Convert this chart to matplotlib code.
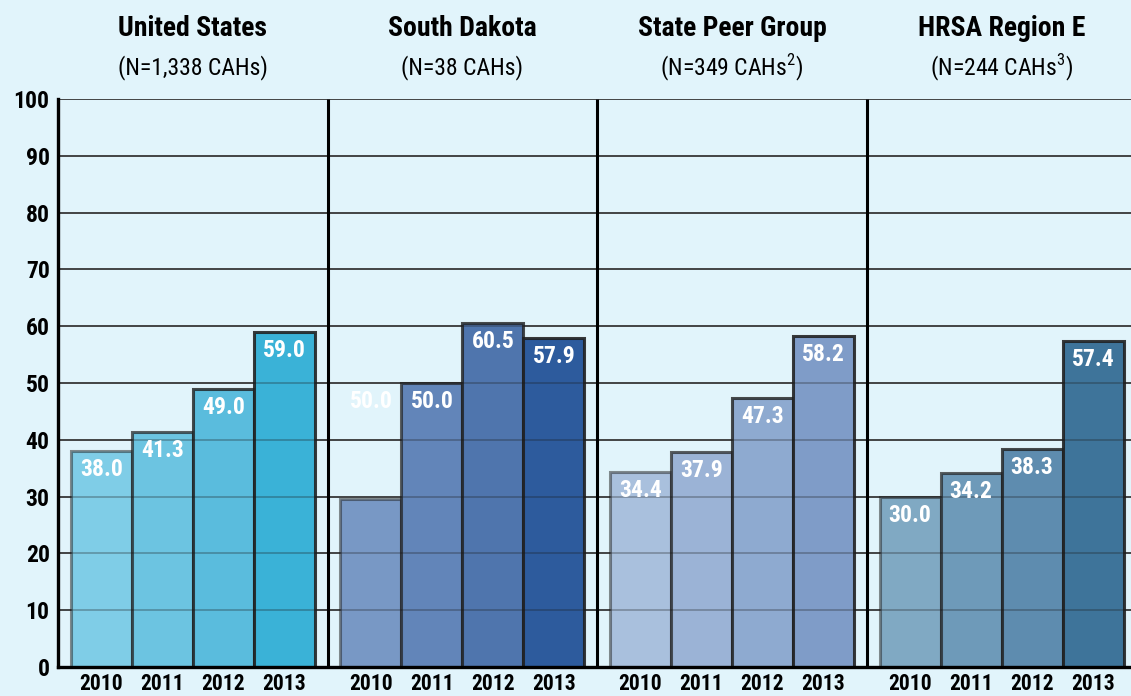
import matplotlib
matplotlib.use("Agg")
import matplotlib.pyplot as plt
from matplotlib import font_manager as fm

# ---------------- data ----------------
years = ["2010", "2011", "2012", "2013"]
groups = ["United States", "South Dakota", "State Peer Group", "HRSA Region E"]
subtitles = ["(N=1,338 CAHs)", "(N=38 CAHs)", r"(N=349 CAHs$^{2}$)", r"(N=244 CAHs$^{3}$)"]
us_values = [38.0, 41.3, 49.0, 59.0]
sd_values = [29.6, 50.0, 60.5, 57.9]          # bar heights as drawn
peer_values = [34.4, 37.9, 47.3, 58.2]
hrsa_values = [30.0, 34.2, 38.3, 57.4]
us_labels = [38.0, 41.3, 49.0, 59.0]
sd_labels = [50.0, 50.0, 60.5, 57.9]           # printed labels
peer_labels = [34.4, 37.9, 47.3, 58.2]
hrsa_labels = [30.0, 34.2, 38.3, 57.4]
yticks = [0, 10, 20, 30, 40, 50, 60, 70, 80, 90, 100]

values = [us_values, sd_values, peer_values, hrsa_values]
labels = [us_labels, sd_labels, peer_labels, hrsa_labels]

colors = [
    ["#7fcde7", "#6cc4e1", "#5abcdd", "#3ab2d7"],
    ["#7898c5", "#6285b9", "#4f75ad", "#2d5b9d"],
    ["#a9c0dd", "#9bb3d6", "#8eaad0", "#7f9cc8"],
    ["#80a9c3", "#6e9ab9", "#5e8caf", "#3e749a"],
]
edge_alpha = [0.5, 0.7, 0.8, 0.88]

avail = {f.name for f in fm.fontManager.ttflist}
cond = [f for f in ["Roboto Condensed", "Liberation Sans Narrow", "DejaVu Sans Condensed",
                    "Open Sans Condensed"] if f in avail]
family = cond + ["DejaVu Sans"]
plt.rcParams["font.family"] = family
plt.rcParams["mathtext.fontset"] = "custom"
plt.rcParams["mathtext.rm"] = family[0]

BG = "#e1f4fb"
fig = plt.figure(figsize=(11.31, 6.96), dpi=100, facecolor=BG)
ax = fig.add_axes([58 / 1131, 1 - 667 / 696, 1 - 58 / 1131, (667 - 99) / 696])
ax.set_facecolor(BG)

bw = 1.0
panel_w = 4.42
margin = 0.21
ax.set_xlim(0, (1131 - 58) / 61.0)
ax.set_ylim(0, 100)

# gridlines (full below bars, faint over bars)
for y in yticks[1:]:
    ax.axhline(y, color="#4a4a4a", lw=1.3, zorder=1)
    ax.axhline(y, color="#1a1a1a", lw=1.3, alpha=0.3, zorder=2.5)

xt, xl = [], []
for i in range(4):
    x0 = i * panel_w
    for j in range(4):
        xc = x0 + margin + j * bw + bw / 2
        ax.bar(xc, values[i][j], width=bw, color=colors[i][j],
               edgecolor=(0.12, 0.12, 0.12, edge_alpha[j]), linewidth=2.2, zorder=2)
        ax.annotate(f"{labels[i][j]:.1f}", (xc, labels[i][j]), xytext=(0, -5),
                    textcoords="offset points", ha="center", va="top",
                    color="white", fontsize=17, fontweight="bold", zorder=4)
        xt.append(xc)
        xl.append(years[j])
    if i > 0:
        ax.plot([x0, x0], [0, 100], color="black", lw=2.2, zorder=3, solid_capstyle="butt")
    cx = x0 + panel_w / 2
    ax.text(cx, 1.125, groups[i], transform=ax.get_xaxis_transform(), ha="center",
            va="center", fontsize=20, fontweight="bold", color="black")
    ax.text(cx, 1.055, subtitles[i], transform=ax.get_xaxis_transform(), ha="center",
            va="center", fontsize=17, color="black")

for s in ["top", "right"]:
    ax.spines[s].set_visible(False)
for s in ["left", "bottom"]:
    ax.spines[s].set_linewidth(2.4)
    ax.spines[s].set_color("black")
    ax.spines[s].set_zorder(5)

ax.set_yticks(yticks)
ax.set_yticklabels([str(y) for y in yticks], fontsize=17, fontweight="bold")
ax.tick_params(axis="y", length=0, pad=6)
ax.set_xticks(xt)
ax.set_xticklabels(xl, fontsize=15.5, fontweight="bold")
ax.tick_params(axis="x", length=0, pad=4)

fig.savefig("out.png", dpi=100, facecolor=BG)
